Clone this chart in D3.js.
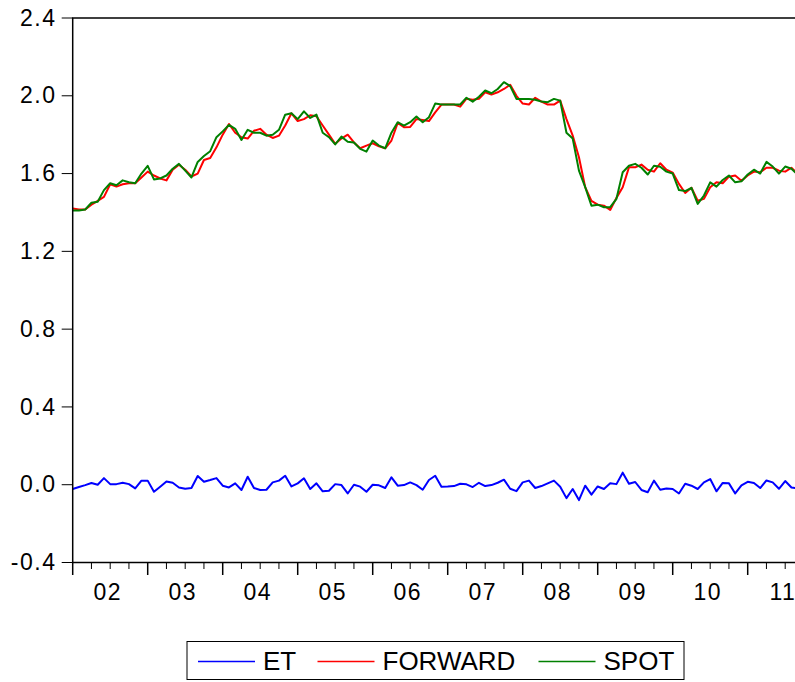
<!DOCTYPE html>
<html>
<head>
<meta charset="utf-8">
<script src="https://cdn.jsdelivr.net/npm/d3@7"></script>
<style>
  body { margin: 0; background: #fff; }
  svg { display: block; }
  text { font-family: "Liberation Sans", Arial, sans-serif; fill: #000; }
</style>
</head>
<body>
<div id="chart"></div>
<script>
// monthly observations, 2002M01 onward
const yearLabels = ["02", "03", "04", "05", "06", "07", "08", "09", "10", "11"];
const yTicks = [-0.4, 0.0, 0.4, 0.8, 1.2, 1.6, 2.0, 2.4];

const spot = [
  1.41, 1.41, 1.415, 1.45, 1.455, 1.515, 1.55, 1.54, 1.565, 1.555, 1.55, 1.60,
  1.64, 1.57, 1.575, 1.59, 1.625, 1.65, 1.615, 1.58, 1.66, 1.69, 1.715, 1.787,
  1.817, 1.85, 1.83, 1.773, 1.825, 1.81, 1.81, 1.795, 1.80, 1.825, 1.903, 1.91,
  1.88, 1.92, 1.886, 1.903, 1.81, 1.787, 1.75, 1.79, 1.764, 1.76, 1.727, 1.713,
  1.77, 1.744, 1.73, 1.81, 1.864, 1.847, 1.864, 1.893, 1.864, 1.89, 1.96, 1.955,
  1.955, 1.955, 1.955, 1.99, 1.97, 1.995, 2.027, 2.013, 2.035, 2.07, 2.05, 1.984,
  1.984, 1.984, 1.98, 1.97, 1.967, 1.984, 1.975, 1.81, 1.78, 1.615, 1.53, 1.435,
  1.44, 1.427, 1.427, 1.47, 1.607, 1.64, 1.65, 1.63, 1.595, 1.64, 1.635, 1.61,
  1.60, 1.515, 1.51, 1.527, 1.444, 1.487, 1.555, 1.533, 1.567, 1.59, 1.555, 1.56,
  1.595, 1.62, 1.60, 1.66, 1.636, 1.60, 1.636, 1.625, 1.595
];

const forward = [
  1.42, 1.415, 1.415, 1.44, 1.46, 1.48, 1.545, 1.533, 1.545, 1.55, 1.55, 1.58,
  1.61, 1.59, 1.575, 1.565, 1.62, 1.645, 1.62, 1.585, 1.60, 1.67, 1.68, 1.735,
  1.80, 1.855, 1.81, 1.787, 1.78, 1.82, 1.83, 1.80, 1.783, 1.795, 1.847, 1.91,
  1.87, 1.88, 1.90, 1.895, 1.847, 1.80, 1.753, 1.78, 1.80, 1.76, 1.73, 1.744,
  1.756, 1.74, 1.73, 1.77, 1.86, 1.838, 1.84, 1.88, 1.875, 1.87, 1.915, 1.955,
  1.955, 1.955, 1.944, 1.985, 1.98, 1.985, 2.018, 2.006, 2.018, 2.035, 2.057, 2.0,
  1.96, 1.955, 1.99, 1.97, 1.955, 1.955, 1.975, 1.88, 1.795, 1.684, 1.53, 1.46,
  1.44, 1.435, 1.413, 1.475, 1.53, 1.632, 1.632, 1.646, 1.62, 1.61, 1.653, 1.62,
  1.605, 1.547, 1.50, 1.527, 1.46, 1.47, 1.53, 1.555, 1.55, 1.584, 1.59, 1.563,
  1.59, 1.61, 1.607, 1.63, 1.63, 1.615, 1.61, 1.63, 1.60
];

const et = [
  -0.022, -0.012, -0.002, 0.009, 0.0, 0.034, 0.003, 0.003, 0.010, 0.003, -0.019, 0.021,
  0.021, -0.036, -0.010, 0.017, 0.010, -0.014, -0.021, -0.017, 0.045, 0.015, 0.024, 0.034,
  -0.005, -0.014, 0.007, -0.027, 0.041, -0.017, -0.027, -0.026, 0.012, 0.021, 0.046, -0.009,
  0.007, 0.033, -0.022, 0.007, -0.034, -0.031, 0.003, -0.002, -0.045, 0.0, -0.010, -0.036,
  0.0, -0.003, -0.017, 0.038, -0.005, -0.002, 0.012, -0.002, -0.026, 0.024, 0.046, -0.010,
  -0.009, -0.007, 0.005, 0.002, -0.012, 0.010, -0.007, -0.002, 0.010, 0.026, -0.021, -0.033,
  0.012, 0.021, -0.017, -0.007, 0.007, 0.021, -0.010, -0.069, -0.022, -0.079, -0.005, -0.051,
  -0.009, -0.022, 0.007, 0.003, 0.062, 0.005, 0.014, -0.027, -0.039, 0.021, -0.026, -0.019,
  -0.022, -0.045, 0.005, -0.005, -0.022, 0.012, 0.029, -0.034, 0.009, 0.007, -0.045, -0.003,
  0.015, 0.009, -0.017, 0.022, 0.012, -0.021, 0.019, -0.014, -0.019
];

const seriesNames = ["ET", "FORWARD", "SPOT"];
const seriesColors = ["#0000ff", "#ff0000", "#008000"];

const width = 795, height = 682;
const margin = { top: 18, left: 72.7, bottom: 562.5 };
const step = 6.25;
const n = spot.length;

const svg = d3.select("#chart").append("svg")
  .attr("width", width)
  .attr("height", height);

const x = d3.scaleLinear()
  .domain([0, n - 1])
  .range([margin.left, margin.left + step * (n - 1)]);

const y = d3.scaleLinear()
  .domain([-0.4, 2.4])
  .range([margin.bottom, margin.top]);

const plotRight = x(n - 1);

// y axis ticks + labels
const yAxis = svg.append("g");
yAxis.selectAll("line")
  .data(yTicks)
  .enter().append("line")
  .attr("x1", margin.left - 11).attr("x2", margin.left)
  .attr("y1", d => y(d)).attr("y2", d => y(d))
  .attr("stroke", "#000").attr("stroke-width", 1);
yAxis.selectAll("text")
  .data(yTicks)
  .enter().append("text")
  .attr("x", 56.5)
  .attr("y", d => y(d))
  .attr("dy", "0.33em")
  .attr("text-anchor", "end")
  .style("font-size", "23px")
  .style("letter-spacing", "1.5px")
  .text(d => d.toFixed(1));

// x axis ticks: majors at January, minors quarterly
const xAxis = svg.append("g");
const tickIdx = d3.range(0, n, 3);
xAxis.selectAll("line")
  .data(tickIdx)
  .enter().append("line")
  .attr("x1", d => x(d)).attr("x2", d => x(d))
  .attr("y1", margin.bottom)
  .attr("y2", d => d % 12 === 0 ? margin.bottom + 12.5 : margin.bottom + 6.5)
  .attr("stroke", "#000")
  .attr("stroke-width", d => d % 12 === 0 ? 1.5 : 1);
xAxis.selectAll("text")
  .data(yearLabels)
  .enter().append("text")
  .attr("x", (d, i) => x(i * 12 + 5.5) + 0.75)
  .attr("y", 599.5)
  .attr("text-anchor", "middle")
  .style("font-size", "23px")
  .style("letter-spacing", "1.5px")
  .text(d => d);

// series lines
const line = d3.line()
  .x((d, i) => x(i))
  .y(d => y(d));

[et, forward, spot].forEach((s, k) => {
  svg.append("path")
    .datum(s)
    .attr("fill", "none")
    .attr("stroke", seriesColors[k])
    .attr("stroke-width", 2)
    .attr("stroke-linejoin", "round")
    .attr("d", line);
});

// frame
svg.append("rect")
  .attr("x", margin.left)
  .attr("y", margin.top)
  .attr("width", plotRight - margin.left)
  .attr("height", margin.bottom - margin.top)
  .attr("fill", "none")
  .attr("stroke", "#000")
  .attr("stroke-width", 1.5);

// legend
const legend = svg.append("g");
legend.append("rect")
  .attr("x", 187).attr("y", 641.5)
  .attr("width", 497).attr("height", 38)
  .attr("fill", "none")
  .attr("stroke", "#000")
  .attr("stroke-width", 1);

const legendPos = [198, 317.5, 538.5];
seriesNames.forEach((name, k) => {
  legend.append("line")
    .attr("x1", legendPos[k]).attr("x2", legendPos[k] + 57)
    .attr("y1", 661.5).attr("y2", 661.5)
    .attr("stroke", seriesColors[k])
    .attr("stroke-width", 1.5);
  legend.append("text")
    .attr("x", legendPos[k] + 65)
    .attr("y", 669.5)
    .style("font-size", "26px")
    .text(name);
});
</script>
</body>
</html>
